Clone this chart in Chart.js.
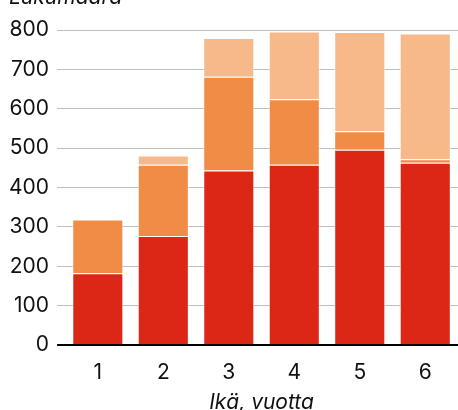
<!DOCTYPE html>
<html>
<head>
<meta charset="utf-8">
<script src="https://cdn.jsdelivr.net/npm/chart.js@4"></script>
<style>
  body { margin: 0; background: #fff; }
  #wrap { width: 458px; height: 410px; }
</style>
</head>
<body>
<div id="wrap"><canvas id="chart" width="458" height="410"></canvas></div>
<script>
const ages = ["1", "2", "3", "4", "5", "6"];
const seriesRed = [182, 277, 443, 458, 496, 463];
const seriesOrange = [137, 181, 238, 166, 47, 9];
const seriesLight = [0, 23, 99, 172, 252, 319];
const yTitle = "Lukumäärä";
const xTitle = "Ikä, vuotta";

const font = "Inter, 'Noto Sans', sans-serif";

// y title sits above the plot, partly cut off at the top
const topTitle = {
  id: "topTitle",
  afterDraw(chart) {
    const ctx = chart.ctx;
    ctx.save();
    ctx.font = `italic 21px ${font}`;
    ctx.fillStyle = "#111";
    ctx.textBaseline = "alphabetic";
    ctx.textAlign = "left";
    ctx.fillText(yTitle, 9, 4);
    ctx.restore();
  },
};

const bar = (label, data, color) => ({
  label,
  data,
  backgroundColor: color,
  borderColor: "rgba(255,255,255,0.85)",
  borderWidth: 1,
  borderSkipped: "start",
  categoryPercentage: 0.78,
  barPercentage: 1,
});

new Chart(document.getElementById("chart"), {
  type: "bar",
  data: {
    labels: ages,
    datasets: [
      bar("a", seriesRed, "#dc2616"),
      bar("b", seriesOrange, "#f08c45"),
      bar("c", seriesLight, "#f7b88a"),
    ],
  },
  options: {
    responsive: false,
    animation: false,
    layout: { padding: { top: 30, left: 1, right: 0, bottom: -3 } },
    plugins: {
      legend: { display: false },
      tooltip: { enabled: false },
    },
    scales: {
      x: {
        stacked: true,
        grid: { display: false },
        border: { display: false },
        ticks: { color: "#111", font: { family: font, size: 21, lineHeight: 1 }, padding: 9 },
        title: {
          display: true,
          text: xTitle,
          color: "#111",
          font: { family: font, size: 21, style: "italic", lineHeight: 1 },
          padding: { top: 0, bottom: 0 },
        },
      },
      y: {
        stacked: true,
        min: 0,
        max: 800,
        border: { display: false },
        grid: {
          color: (c) => (c.tick && c.tick.value === 0 ? "#000" : "#bdbdbd"),
          lineWidth: (c) => (c.tick && c.tick.value === 0 ? 2 : 1),
          drawTicks: true,
          tickLength: 8,
        },
        ticks: { stepSize: 100, color: "#111", font: { family: font, size: 21 }, padding: 8 },
      },
    },
  },
  plugins: [topTitle],
});
</script>
</body>
</html>
